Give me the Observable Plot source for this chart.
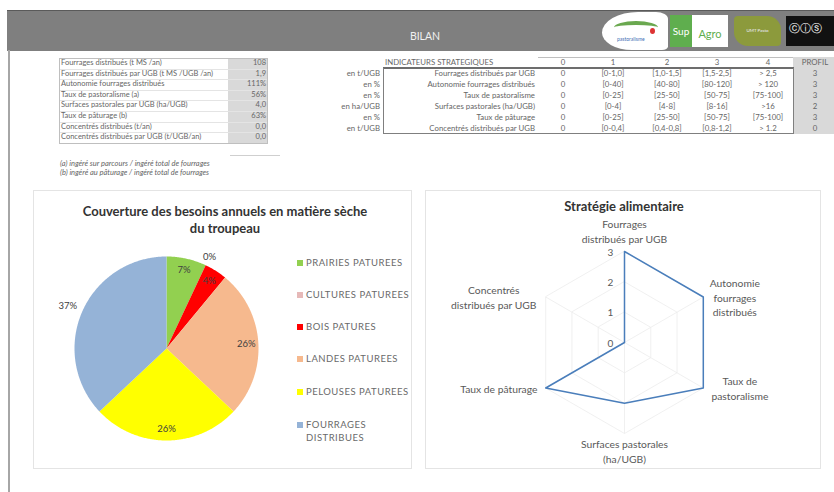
<!DOCTYPE html>
<html><head><meta charset="utf-8">
<script src="https://cdn.jsdelivr.net/npm/d3@7"></script>
<script src="https://cdn.jsdelivr.net/npm/@observablehq/plot@0.6"></script>
<style>
body{margin:0;background:#fff;font-family:Lato,"Open Sans",sans-serif;}
#page{position:relative;width:834px;height:492px;overflow:hidden;background:#fff;}
.a{position:absolute;white-space:nowrap;}
.t{font-size:7.5px;color:#666;line-height:10.6px;}
.t2{font-size:7.8px;color:#666;line-height:11px;}
.panel{position:absolute;border:1px solid #e4e4e4;box-sizing:border-box;}
.ttl{position:absolute;font-weight:bold;font-size:13px;color:#333;text-align:center;line-height:16.5px;}
.leg{position:absolute;font-size:9.5px;letter-spacing:0.5px;color:#6a6a6a;line-height:13px;}
.sw{position:absolute;width:6px;height:6px;}
</style></head><body><div id="page">
  <div class="a" style="left:7px;top:10px;width:827px;height:40px;background:#7f7f7f;border-top:1px solid #5a5a5a;"></div>
  <div class="a" style="left:8px;top:50px;width:2px;height:442px;background:#a6a6a6;"></div>
  <div class="a" style="left:400px;top:30px;width:50px;text-align:center;color:#f0f0f0;font-size:10.5px;">BILAN</div>
  <!-- logos -->
  <div class="a" style="left:602px;top:12px;width:66px;height:38px;background:#fff;border-radius:60% 20% 10% 50%;"></div>
  <div class="a" style="left:614px;top:21px;width:44px;height:9px;border-top:4px solid #6aa84f;border-radius:50%;"></div>
  <div class="a" style="left:650px;top:28px;width:5px;height:6px;background:#d33;border-radius:50%;"></div>
  <div class="a" style="left:617px;top:36px;font-size:5px;color:#3d6eb5;">pastoralisme</div>
  <div class="a" style="left:670px;top:15px;width:22px;height:32px;background:#5fae4e;color:#fff;font-size:10px;line-height:32px;text-align:center;">Sup</div>
  <div class="a" style="left:692px;top:15px;width:36px;height:32px;background:#fff;color:#5fae4e;font-size:11px;line-height:38px;text-align:center;">Agro</div>
  <div class="a" style="left:734px;top:16px;width:47px;height:30px;background:#8c9a3c;border-radius:4px 14px 4px 14px;color:#eef;font-size:4.5px;line-height:30px;text-align:center;">UMT Pasto</div>
  <div class="a" style="left:786px;top:16px;width:48px;height:30px;background:#111;color:#fff;font-size:11px;line-height:24px;padding-left:3px;box-sizing:border-box;">ⓒⓘⓢ</div>

  <div class="panel" style="left:33px;top:190px;width:379px;height:279px;"></div>
  <div class="panel" style="left:425px;top:190px;width:396px;height:279px;"></div>
  <div class="ttl" style="left:50px;top:203px;width:350px;">Couverture des besoins annuels en matière sèche<br>du troupeau</div>
  <div class="ttl" style="left:524px;top:198px;width:200px;">Stratégie alimentaire</div>
  <div id="pie" class="a" style="left:33px;top:190px;"></div>
  <div id="radar" class="a" style="left:425px;top:190px;"></div>
  <div id="legend"></div>
  <div id="tables"></div>
</div>
<script>
// ---- data ----
const bilanLabels = ["Fourrages distribués (t MS /an)", "Fourrages distribués par UGB (t MS /UGB /an)", "Autonomie fourrages distribués", "Taux de pastoralisme (a)", "Surfaces pastorales par UGB (ha/UGB)", "Taux de pâturage (b)", "Concentrés distribués (t/an)", "Concentrés distribués par UGB (t/UGB/an)"];
const bilanValues = ["108", "1,9", "111%", "56%", "4,0", "63%", "0,0", "0,0"];
const footnotes = ["(a) ingéré sur parcours / ingéré total de fourrages", "(b) ingéré au pâturage / ingéré total de fourrages"];

const indicHeader = ["0", "1", "2", "3", "4", "PROFIL"];
const indicUnits = ["en t/UGB", "en %", "en %", "en ha/UGB", "en %", "en t/UGB"];
const indicLabels = ["Fourrages distribués par UGB", "Autonomie fourrages distribués", "Taux de pastoralisme", "Surfaces pastorales (ha/UGB)", "Taux de pâturage", "Concentrés distribués par UGB"];
const class0 = ["0", "0", "0", "0", "0", "0"];
const class1 = ["[0-1,0]", "[0-40]", "[0-25]", "[0-4]", "[0-25]", "[0-0,4]"];
const class2 = ["[1,0-1,5]", "[40-80]", "[25-50]", "[4-8]", "[25-50]", "[0,4-0,8]"];
const class3 = ["[1,5-2,5]", "[80-120]", "[50-75]", "[8-16]", "[50-75]", "[0,8-1,2]"];
const class4 = ["> 2,5", "> 120", "[75-100]", ">16", "[75-100]", "> 1.2"];
const profil = [3, 3, 3, 2, 3, 0];

const pieCats = ["PRAIRIES PATUREES", "CULTURES PATUREES", "BOIS PATURES", "LANDES PATUREES", "PELOUSES PATUREES", "FOURRAGES DISTRIBUES"];
const pieValues = [7, 0, 4, 26, 26, 37];
const pieColors = ["#92d050", "#e6b9b8", "#ff0000", "#f6b98e", "#ffff00", "#95b3d7"];

const radarAxes = ["Fourrages\ndistribués par UGB", "Autonomie\nfourrages\ndistribués", "Taux de\npastoralisme", "Surfaces pastorales\n(ha/UGB)", "Taux de pâturage", "Concentrés\ndistribués par UGB"];
const radarTicks = [0, 1, 2, 3];

// ---- tables (HTML) ----
const T = document.getElementById("tables");
function div(style, text, cls = "a t") {
  const d = document.createElement("div"); d.className = cls; d.setAttribute("style", style);
  if (text !== undefined) d.textContent = text; T.appendChild(d); return d;
}
div("left:59px;top:58px;width:209px;height:86px;border:1px solid #bfbfbf;box-sizing:border-box;", undefined);
div("left:228px;top:59px;width:39px;height:84px;background:#d9d9d9;", undefined);
bilanLabels.forEach((l, i) => {
  const y = 58 + i * 10.6;
  div(`left:61px;top:${y}px;`, l);
  div(`left:228px;top:${y}px;width:38px;text-align:right;`, bilanValues[i]);
  if (i > 0) div(`left:60px;top:${y}px;width:207px;height:0;border-top:1px solid #e4e4e4;`, undefined);
});
div("left:230px;top:155px;width:50px;height:0;border-top:1px solid #cfcfcf;", undefined);
footnotes.forEach((f, i) => div(`left:60px;top:${159 + i * 9}px;font-style:italic;`, f));

// right table
div("left:793px;top:57px;width:41px;height:77px;background:#d9d9d9;", undefined);
div("left:538px;top:57px;width:255px;height:0;border-top:1px solid #bfbfbf;", undefined);
div("left:385px;top:57px;", "INDICATEURS STRATEGIQUES", "a t2");
div("left:383px;top:67px;width:411px;height:0;border-top:2px solid #6d6d6d;", undefined);
div("left:383px;top:68px;width:411px;height:66px;border:1px solid #7f7f7f;border-top:none;box-sizing:border-box;", undefined);
const colX = [563, 613, 667, 717, 768, 815];
indicHeader.forEach((h, j) => div(`left:${colX[j] - 25}px;top:57px;width:50px;text-align:center;`, h, "a t2"));
const cols = [class0, class1, class2, class3, class4, profil];
indicLabels.forEach((l, i) => {
  const y = 68 + i * 11;
  div(`left:290px;top:${y}px;width:90px;text-align:right;`, indicUnits[i], "a t2");
  div(`left:385px;top:${y}px;width:150px;text-align:right;`, l, "a t2");
  cols.forEach((c, j) => div(`left:${colX[j] - 25}px;top:${y}px;width:50px;text-align:center;`, String(c[i]), "a t2"));
});

// ---- legend ----
const L = document.getElementById("legend");
const legY = [256, 288, 320, 352, 385, 418];
pieCats.forEach((c, i) => {
  const s = document.createElement("div"); s.className = "sw";
  s.style.cssText = `left:297px;top:${legY[i] + 4}px;background:${pieColors[i]};`; L.appendChild(s);
  const t = document.createElement("div"); t.className = "leg";
  t.style.cssText = `left:306px;top:${legY[i]}px;`;
  t.innerHTML = c === "FOURRAGES DISTRIBUES" ? "FOURRAGES<br>DISTRIBUES" : c; L.appendChild(t);
});

// ---- pie ----
const arcs = d3.pie().sort(null).value(d => d.v)(pieCats.map((c, i) => ({c, v: pieValues[i]})));
const piePts = [];
arcs.forEach(a => {
  const span = a.endAngle - a.startAngle;
  if (span <= 0) return;
  piePts.push({c: a.data.c, x: 0, y: 0});
  const n = Math.max(2, Math.ceil(span / 0.01));
  for (let k = 0; k <= n; k++) {
    const t = a.startAngle + span * k / n;
    piePts.push({c: a.data.c, x: Math.sin(t), y: Math.cos(t)});
  }
});
const pieLabels = arcs.map(a => {
  const m = (a.startAngle + a.endAngle) / 2;
  const r = a.data.v === 0 ? 1.1 : a.data.v > 30 ? 1.17 : 0.87;
  return {x: r * Math.sin(m), y: r * Math.cos(m), text: a.data.v + "%"};
});
document.getElementById("pie").appendChild(Plot.plot({
  width: 379, height: 279, margin: 0,
  style: {background: "transparent", fontFamily: "Lato, 'Open Sans', sans-serif"},
  x: {domain: [-1, 1], range: [41, 225], axis: null},
  y: {domain: [-1, 1], range: [250, 66], axis: null},
  color: {domain: pieCats, range: pieColors},
  marks: [
    Plot.line(piePts, {x: "x", y: "y", z: "c", fill: "c", stroke: "none", curve: "linear-closed"}),
    Plot.text(pieLabels, {x: "x", y: "y", text: "text", fontSize: 9.5, fill: "#404040"})
  ]
}));

// ---- radar ----
const N = radarAxes.length;
const ang = i => i * 2 * Math.PI / N;
const vmax = d3.max(radarTicks);
const gridPts = radarTicks.filter(t => t > 0).flatMap(t => radarAxes.map((_, i) => ({t, x: t * Math.sin(ang(i)), y: t * Math.cos(ang(i))})));
const spokes = radarAxes.map((_, i) => ({x: vmax * Math.sin(ang(i)), y: vmax * Math.cos(ang(i))}));
const profPts = profil.map((v, i) => ({x: v * Math.sin(ang(i)), y: v * Math.cos(ang(i))}));
const pxPerUnit = 91 / vmax;
const axisLabels = radarAxes.map((txt, i) => {
  const lines = txt.split("\n");
  const a = ang(i), vx = vmax * Math.sin(a), vy = vmax * Math.cos(a);
  const halfW = d3.max(lines, l => l.length) * 5.1 / 2;
  const halfH = lines.length * 14.5 / 2;
  let x = vx, y = vy;
  if (Math.abs(Math.sin(a)) < 0.01) y = vy + Math.sign(vy) * ((vy > 0 ? 6 : 3) + halfH) / pxPerUnit;
  else x = vx + Math.sign(vx) * (6 + halfW) / pxPerUnit;
  return {x, y, text: txt};
});
document.getElementById("radar").appendChild(Plot.plot({
  width: 396, height: 279, margin: 0,
  style: {background: "transparent", fontFamily: "Lato, 'Open Sans', sans-serif"},
  x: {domain: [-vmax, vmax], range: [108, 290], axis: null},
  y: {domain: [-vmax, vmax], range: [243, 61], axis: null},
  marks: [
    Plot.line(gridPts, {x: "x", y: "y", z: "t", curve: "linear-closed", stroke: "#ececec", strokeWidth: 0.8}),
    Plot.link(spokes, {x1: 0, y1: 0, x2: "x", y2: "y", stroke: "#ececec", strokeWidth: 0.8}),
    Plot.line(profPts, {x: "x", y: "y", curve: "linear-closed", stroke: "#4a7ebb", strokeWidth: 1.5}),
    Plot.text(radarTicks, {x: 0, y: d => d, text: d => String(d), dx: -14, dy: 1, fontSize: 10, fill: "#595959"}),
    Plot.text(axisLabels, {x: "x", y: "y", text: "text", fontSize: 10.3, lineHeight: 1.42, fill: "#595959"})
  ]
}));
</script>
</body></html>
